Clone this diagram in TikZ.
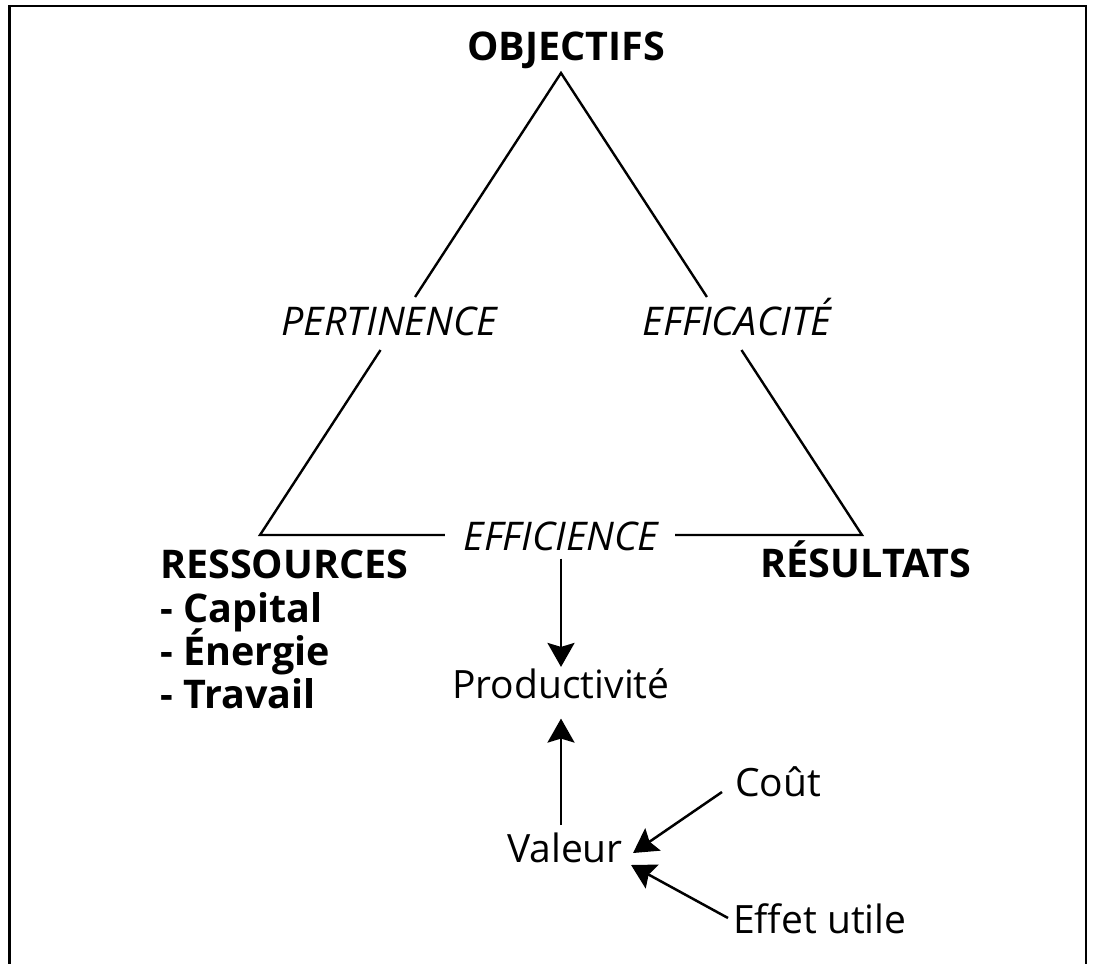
\documentclass[tikz,border=0pt]{standalone}
\usepackage{fontspec}
\setmainfont{Open Sans}
\usetikzlibrary{arrows.meta,calc}
\begin{document}
\begin{tikzpicture}[x=1pt,y=-1pt,
  txt/.style={inner sep=0pt, font=\fontsize{39}{46}\selectfont},
  bld/.style={inner sep=0pt, font=\fontsize{39.5}{46}\selectfont\bfseries},
  itl/.style={inner sep=0pt, font=\fontsize{39.5}{46}\selectfont\itshape},
  edge/.style={line width=2.4pt},
  arr/.style={line width=2.5pt, -{Stealth[length=24pt,width=27pt,inset=4pt]}}]
\useasboundingbox (0,0) rectangle (1093,964);
\draw[line width=3pt] (9.5,964) -- (9.5,6);
\draw[line width=2.4pt] (8,6) -- (1086,6) -- (1086,964);
% labels
\node[bld, anchor=base] (obj) at (566,60) {OBJECTIFS};
\node[itl, anchor=base] (pert) at (389,335) {PERTINENCE};
\node[itl, anchor=base] (effa) at (737,335) {EFFICACITÉ};
\node[itl, anchor=base] (effi) at (561,550) {EFFICIENCE};
\node[bld, anchor=base west] (res) at (160,578) {RESSOURCES};
\node[bld, anchor=base west] (cap) at (160,622) {- Capital};
\node[bld, anchor=base west] (ene) at (160,665) {- Énergie};
\node[bld, anchor=base west] (tra) at (160,708) {- Travail};
\node[bld, anchor=base] (resu) at (866,577) {RÉSULTATS};
\node[txt, anchor=base] (prod) at (561,698) {Productivité};
\node[txt, anchor=base] (val) at (565,862) {Valeur};
\node[txt, anchor=base west] (cout) at (735,796) {Coût};
\node[txt, anchor=base west] (eu) at (733,933) {Effet utile};
% triangle
\coordinate (A) at (561,73);
\coordinate (B) at (260,535);
\coordinate (C) at (862,535);
\draw[edge] ($(A)!0.4848!(B)$) -- (A) -- ($(A)!0.4848!(C)$);
\draw[edge] ($(A)!0.5996!(B)$) -- (B) -- ($(B)!0.3073!(C)$);
\draw[edge] ($(B)!0.6894!(C)$) -- (C) -- ($(A)!0.5996!(C)$);
% arrows
\draw[arr] ($(effi.south)+(0,8)$) -- ($(effi.south |- prod.north)+(0,-1)$);
\draw[arr] ($(prod.south |- val.north)+(0,-7)$) -- ($(prod.south)+(0,20)$);
\draw[arr] ($(cout.base west)+(-13,-4)$) -- ($(val.base east)+(10,-9)$);
\draw[arr] ($(eu.base west)+(-5,-15)$) -- ($(val.base east)+(8,3)$);
\end{tikzpicture}
\end{document}
